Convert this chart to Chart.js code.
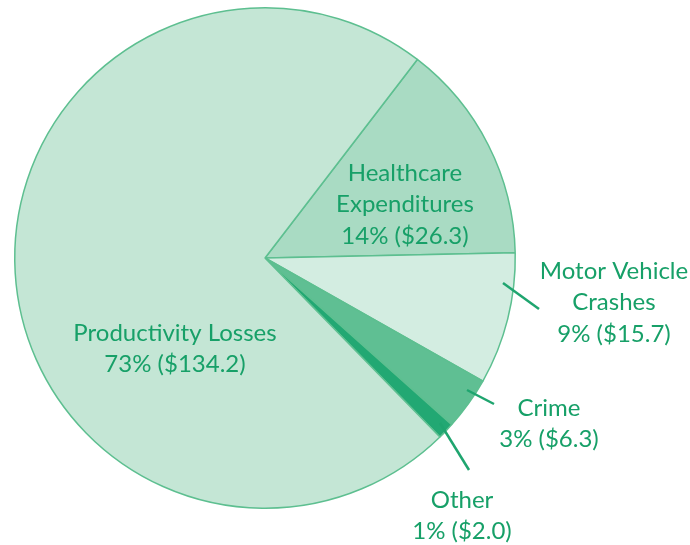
<!DOCTYPE html>
<html>
<head>
<meta charset="utf-8">
<script src="https://cdn.jsdelivr.net/npm/chart.js@4"></script>
<style>
  html, body { margin: 0; padding: 0; background: #fff; }
  #wrap { width: 690px; height: 545px; position: relative; }
</style>
</head>
<body>
<div id="wrap"><canvas id="pie"></canvas></div>
<script>
// costs in billions of dollars
const categories = ["Healthcare Expenditures", "Motor Vehicle Crashes", "Crime", "Other", "Productivity Losses"];
const costs = [26.3, 15.7, 6.3, 2.0, 134.2];
const percents = ["14%", "9%", "3%", "1%", "73%"];
const sliceColors = ["#a9dbc3", "#d3ede1", "#5fbf93", "#22a873", "#c4e6d5"];

// label text lines, placed by hand like the original
const labelLines = [
    ["Healthcare", "Expenditures", "14% ($26.3)"],
    ["Motor Vehicle", "Crashes", "9% ($15.7)"],
    ["Crime", "3% ($6.3)"],
    ["Other", "1% ($2.0)"],
    ["Productivity Losses", "73% ($134.2)"]
];
const labelPos = [[405, 173], [614, 271], [549, 408], [462, 500], [175, 333]];
const leaders = [null, [503, 283, 539, 309], [467, 390, 494, 404], [440, 423, 469, 470], null];

const textGreen = "#17a068";

const labelPlugin = {
    id: 'pieLabels',
    afterDatasetsDraw(chart) {
        const ctx = chart.ctx;
        ctx.save();
        ctx.strokeStyle = "#1fa56f";
        ctx.lineWidth = 2.5;
        leaders.forEach(function (l) {
            if (!l) return;
            ctx.beginPath();
            ctx.moveTo(l[0], l[1]);
            ctx.lineTo(l[2], l[3]);
            ctx.stroke();
        });
        ctx.fillStyle = textGreen;
        ctx.font = "24px Lato";
        ctx.textAlign = "center";
        ctx.textBaseline = "middle";
        labelLines.forEach(function (lines, i) {
            const p = labelPos[i];
            lines.forEach(function (t, j) {
                ctx.fillText(t, p[0], p[1] + j * 31.5);
            });
        });
        ctx.restore();
    }
};

new Chart(document.getElementById("pie"), {
    type: 'pie',
    data: {
        labels: categories,
        datasets: [{
            data: costs,
            backgroundColor: sliceColors,
            borderColor: "#5dbf90",
            borderWidth: 1.5
        }]
    },
    options: {
        responsive: true,
        maintainAspectRatio: false,
        animation: false,
        rotation: 37.5,
        layout: { padding: { left: 14, top: 7, right: 174, bottom: 36 } },
        plugins: {
            legend: { display: false },
            tooltip: { enabled: false }
        }
    },
    plugins: [labelPlugin]
});
</script>
</body>
</html>
